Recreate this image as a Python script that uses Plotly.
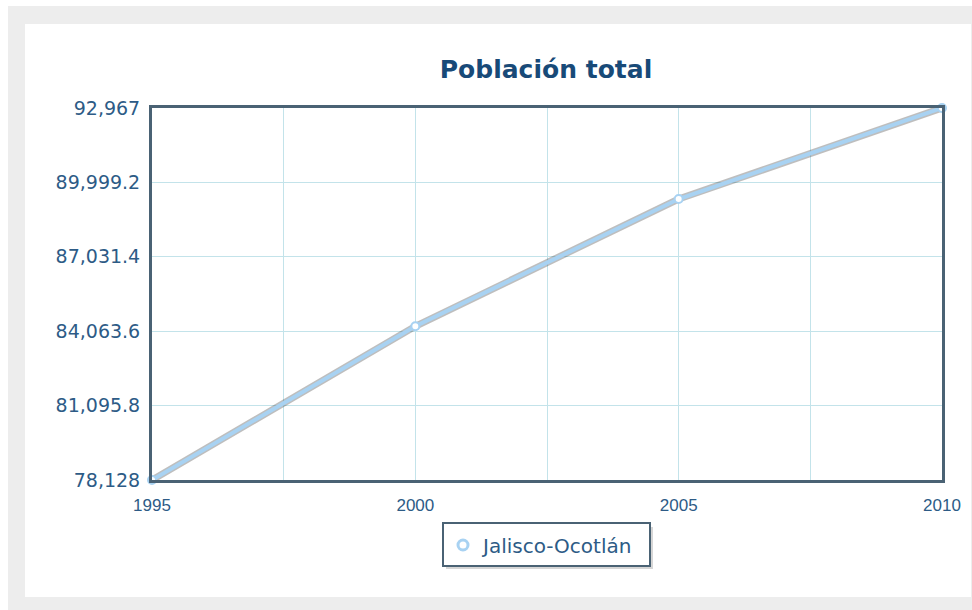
import plotly.graph_objects as go

years = [1995, 2000, 2005, 2010]
population = [78128, 84260, 89337, 92967]
series_name = "Jalisco-Ocotlán"
title_text = "Población total"

y_tick_values = [78128, 81095.8, 84063.6, 87031.4, 89999.2, 92967]
y_tick_labels = ["78,128", "81,095.8", "84,063.6", "87,031.4", "89,999.2", "92,967"]
x_tick_values = [1995, 2000, 2005, 2010]
x_tick_labels = ["1995", "2000", "2005", "2010"]

W, H = 972, 610
L, R, T, B = 152, 942, 108, 480
pw, ph = R - L, B - T

def px(x):
    return (x - L) / pw

def py(y):
    return (B - y) / ph

line_color = "#a8d2f2"
tick_color = "#2d5b86"
frame_color = "#4a6274"
grid_color = "#c3e3ea"

fig = go.Figure()

# soft shadow under line
fig.add_trace(go.Scatter(
    x=years, y=population, mode="lines",
    line=dict(color="rgba(40,40,40,0.30)", width=7),
    hoverinfo="skip", showlegend=False,
))
fig.add_trace(go.Scatter(
    x=years, y=population, mode="lines+markers", name=series_name,
    line=dict(color=line_color, width=4),
    marker=dict(size=8, color="white", line=dict(color=line_color, width=2)),
    cliponaxis=False, showlegend=False, legendgroup="s",
))
# legend entry (marker only, as in the reference)
fig.add_trace(go.Scatter(
    x=[None], y=[None], mode="markers", name=series_name, legendgroup="s",
    marker=dict(size=10, color="white", line=dict(color=line_color, width=3)),
))

shapes = [
    dict(type="rect", xref="paper", yref="paper", layer="below",
         x0=px(8), x1=px(972), y0=py(610), y1=py(6),
         fillcolor="#ededed", line=dict(width=0)),
    dict(type="rect", xref="paper", yref="paper", layer="below",
         x0=px(25), x1=px(971), y0=py(597), y1=py(24),
         fillcolor="white", line=dict(width=0)),
    # legend shadow
    dict(type="rect", xref="paper", yref="paper", layer="below",
         x0=px(446), x1=px(653), y0=py(569), y1=py(527),
         fillcolor="rgba(120,120,120,0.30)", line=dict(width=0)),
    # legend box
    dict(type="rect", xref="paper", yref="paper", layer="below",
         x0=px(443), x1=px(650), y0=py(566), y1=py(523),
         fillcolor="white", line=dict(color=frame_color, width=2)),
]

fig.update_layout(
    width=W, height=H,
    margin=dict(l=L, r=W - R, t=T, b=H - B, pad=0),
    paper_bgcolor="white",
    plot_bgcolor="white",
    shapes=shapes,
    title=dict(text="<b>" + title_text + "</b>", x=px(546), xref="paper",
               xanchor="center", y=1 - 69 / H, yref="container", yanchor="middle",
               font=dict(family="DejaVu Sans", size=25, color="#184a78")),
    legend=dict(orientation="h", x=px(443), xanchor="left", y=py(545), yanchor="middle",
                bgcolor="rgba(0,0,0,0)", borderwidth=0,
                font=dict(family="DejaVu Sans", size=20, color=tick_color),
                itemwidth=30),
    xaxis=dict(range=[1995, 2010], tickvals=x_tick_values, ticktext=x_tick_labels,
               showgrid=True, gridcolor=grid_color, gridwidth=1,
               minor=dict(dtick=2.5, tick0=1995, showgrid=True, gridcolor=grid_color, gridwidth=1),
               showline=True, mirror=True, linecolor=frame_color, linewidth=3,
               ticks="", zeroline=False,
               tickfont=dict(family="Liberation Sans", size=17, color=tick_color),
               ticklabelstandoff=8),
    yaxis=dict(range=[78128, 92967], tickvals=y_tick_values, ticktext=y_tick_labels,
               showgrid=True, gridcolor=grid_color, gridwidth=1,
               showline=True, mirror=True, linecolor=frame_color, linewidth=3,
               ticks="", zeroline=False,
               tickfont=dict(family="DejaVu Sans", size=19, color=tick_color),
               ticklabelstandoff=5),
)

fig.write_html("out.html", config={"displayModeBar": False},
               post_script="document.body.style.margin='0';document.body.style.overflow='hidden';")
